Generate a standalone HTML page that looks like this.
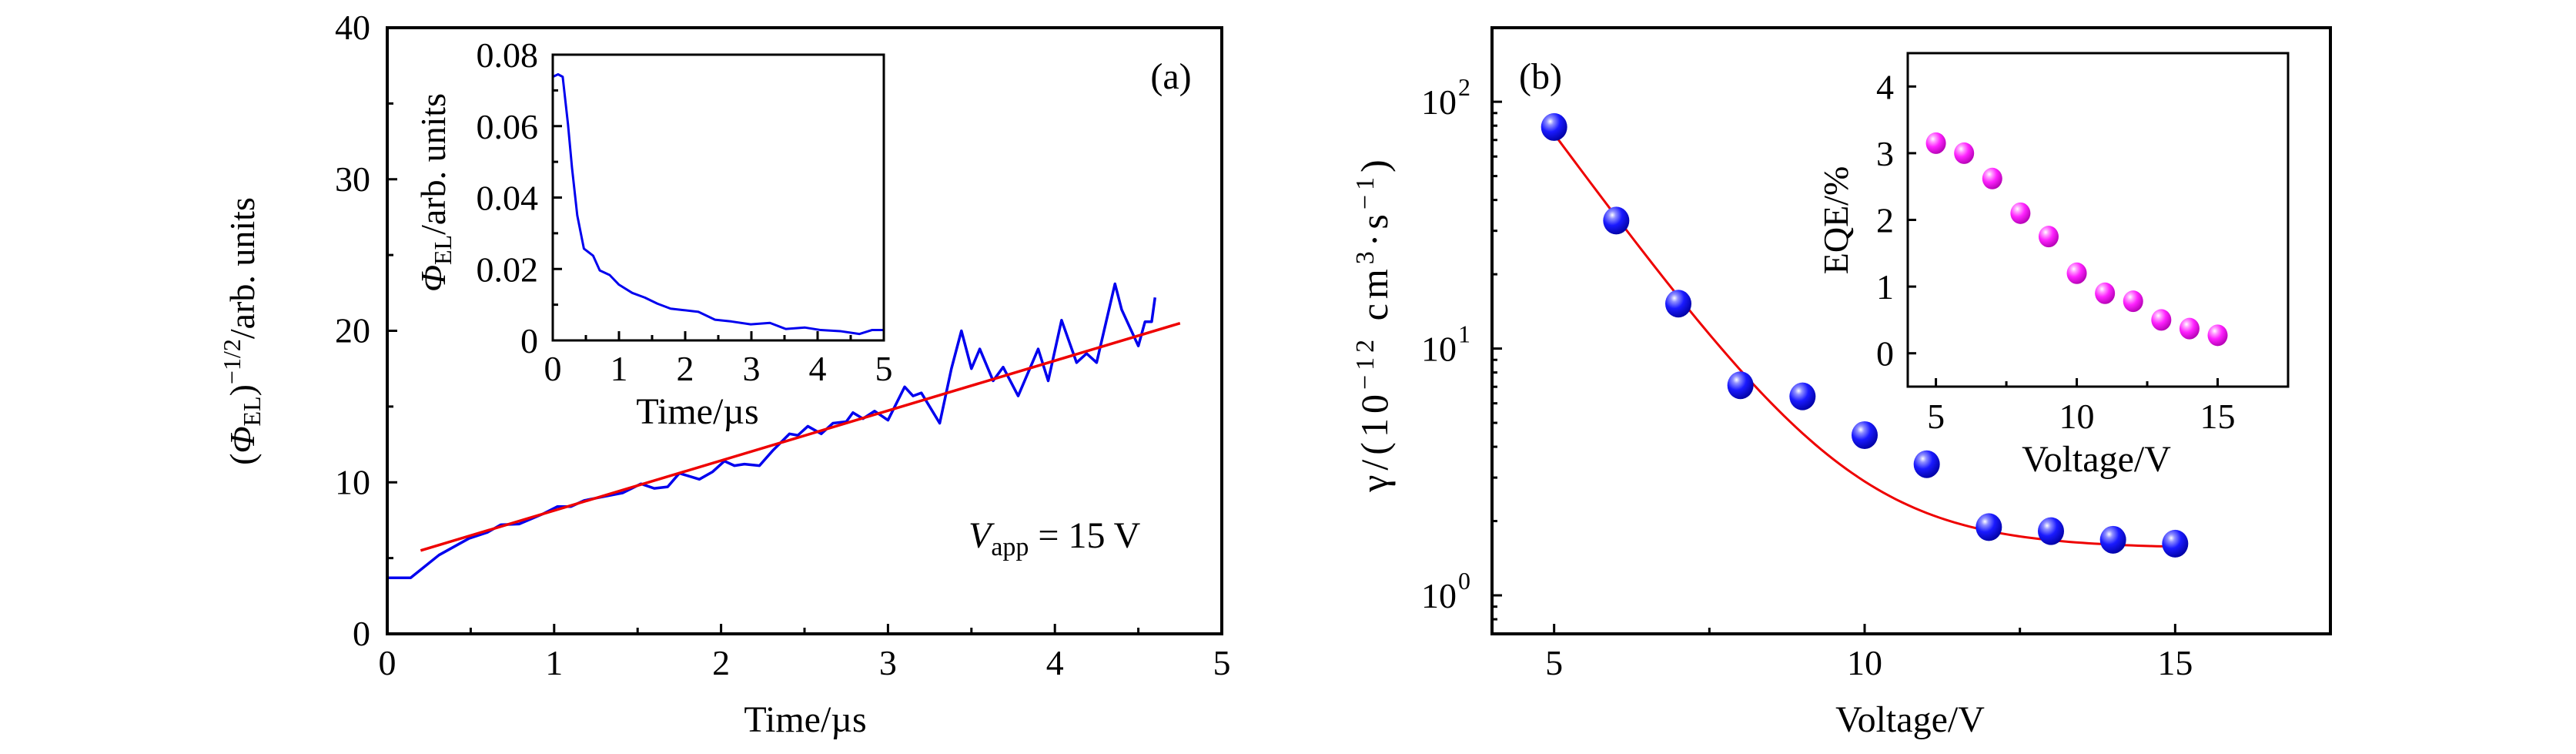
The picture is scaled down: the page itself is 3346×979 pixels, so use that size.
<!DOCTYPE html>
<html><head><meta charset="utf-8"><style>
html,body{margin:0;padding:0;background:#fff;}
svg text{font-family:"Liberation Serif",serif;fill:#000;}
</style></head><body>
<svg id="fig" width="3346" height="974" viewBox="0 0 3346 974" xmlns="http://www.w3.org/2000/svg">
<defs>
<radialGradient id="gBlue" cx="0.35" cy="0.3" r="0.75"><stop offset="0" stop-color="#ffffff"/><stop offset="0.18" stop-color="#8f8fff"/><stop offset="0.5" stop-color="#1a1aff"/><stop offset="1" stop-color="#0000a0"/></radialGradient>
<radialGradient id="gPink" cx="0.35" cy="0.3" r="0.75"><stop offset="0" stop-color="#ffffff"/><stop offset="0.2" stop-color="#ff9cff"/><stop offset="0.5" stop-color="#ff22ff"/><stop offset="1" stop-color="#b000b0"/></radialGradient>
</defs>
<g id="layer"></g>
</svg>
<script>
// ---- Panel (a) main data ----
const aTime = [0,0.14,0.31,0.49,0.6,0.68,0.79,0.93,1.02,1.1,1.18,1.27,1.41,1.52,1.6,1.68,1.75,1.87,1.95,2.02,2.08,2.14,2.23,2.31,2.41,2.46,2.52,2.6,2.67,2.75,2.79,2.85,2.92,3.0,3.1,3.15,3.2,3.31,3.38,3.44,3.5,3.55,3.63,3.69,3.78,3.9,3.96,4.04,4.13,4.19,4.25,4.36,4.4,4.5,4.54,4.58,4.6];
const aSignal = [3.7,3.7,5.2,6.3,6.7,7.2,7.25,7.9,8.4,8.4,8.8,9.0,9.3,9.9,9.6,9.7,10.6,10.2,10.7,11.4,11.1,11.2,11.1,12.1,13.2,13.1,13.7,13.2,13.9,14.0,14.6,14.2,14.7,14.1,16.3,15.7,15.9,13.9,17.5,20.0,17.5,18.8,16.7,17.6,15.7,18.8,16.7,20.7,17.9,18.5,17.9,23.1,21.4,19.0,20.6,20.6,22.2];
const aFitX = [0.2,4.75];
const aFitY = [5.5,20.5];
const aXTicks = [0,1,2,3,4,5];
const aYTicks = [0,10,20,30,40];
// ---- Panel (a) inset ----
const insTime = [0,0.08,0.15,0.23,0.29,0.37,0.47,0.61,0.71,0.86,1.0,1.2,1.39,1.58,1.78,1.97,2.2,2.45,2.7,2.99,3.28,3.52,3.81,4.05,4.34,4.63,4.82,5.0];
const insPhi = [0.0738,0.0745,0.0738,0.0605,0.0484,0.035,0.0257,0.0237,0.0196,0.0183,0.0156,0.0133,0.012,0.0103,0.0089,0.0085,0.008,0.0058,0.0053,0.0045,0.0049,0.0032,0.0036,0.0029,0.0026,0.0018,0.0029,0.0029];
const insXTicks = [0,1,2,3,4,5];
const insYTicks = [0,0.02,0.04,0.06,0.08];
const insYLabels = ["0","0.02","0.04","0.06","0.08"];
// ---- Panel (b) ----
const bVoltage = [5,6,7,8,9,10,11,12,13,14,15];
const bGamma = [79,33,15.2,7.1,6.4,4.46,3.4,1.89,1.82,1.68,1.62];
const bFitParams = [72.5,1.254,1.55]; // A, tau, y0 of A*exp(-(V-5)/tau)+y0
const bFitRange = [5,15];
const bXTicks = [5,10,15];
const bYTicks = [0,1,2];
const eqeVoltage = [5,6,7,8,9,10,11,12,13,14,15];
const eqeValue = [3.15,3.0,2.62,2.1,1.75,1.2,0.9,0.78,0.5,0.37,0.27];
const eqeXTicks = [5,10,15];
const eqeYTicks = [0,1,2,3,4];

const NS="http://www.w3.org/2000/svg";
const layer=document.getElementById('layer');
function mk(tag,attrs,parent,text){const e=document.createElementNS(NS,tag);for(const k in attrs)e.setAttribute(k,attrs[k]);if(text!==undefined)e.textContent=text;(parent||layer).appendChild(e);return e;}
function lin(d0,d1,p0,p1){return v=>p0+(v-d0)/(d1-d0)*(p1-p0);}
function logs(d0,d1,p0,p1){return v=>p0+(Math.log10(v)-d0)/(d1-d0)*(p1-p0);}

// ===== Panel a =====
const ax=lin(0,5,503,1587), ay=lin(0,40,823,36);
const gA=mk('g',{});


for(let v=0;v<=5;v+=0.5){const x=ax(v);const t=mk('line',{x1:x,x2:x,y1:823,y2:823-(v%1===0?13:8),stroke:'#000','stroke-width':3},gA);}
for(let v=0;v<=40;v+=5){const y=ay(v);const t=mk('line',{x1:503,x2:503+(v%10===0?13:8),y1:y,y2:y,stroke:'#000','stroke-width':3},gA);}
aXTicks.forEach(v=>{const t=mk('text',{x:ax(v),y:876,'font-size':46,'text-anchor':'middle'},gA,String(v));});
aYTicks.forEach(v=>{const t=mk('text',{x:481,y:ay(v)+15,'font-size':46,'text-anchor':'end'},gA,String(v));});
let p=mk('polyline',{points:aTime.map((t,i)=>ax(t)+','+ay(aSignal[i])).join(' '),fill:'none',stroke:'#0000ee','stroke-width':3.5,'stroke-linejoin':'round'},gA);

p=mk('line',{x1:ax(aFitX[0]),y1:ay(aFitY[0]),x2:ax(aFitX[1]),y2:ay(aFitY[1]),stroke:'#ee0000','stroke-width':3.5},gA);

p=mk('rect',{x:503,y:36,width:1084,height:787,fill:'none',stroke:'#000','stroke-width':4},gA);

p=mk('text',{x:1046,y:950,'font-size':48,'text-anchor':'middle'},gA,'Time/µs');

p=mk('text',{transform:'translate(330,430) rotate(-90)','font-size':46,'text-anchor':'middle'},gA);
p.innerHTML='(<tspan font-style="italic">Φ</tspan><tspan font-size="32" dy="8">EL</tspan><tspan dy="-8">)</tspan><tspan font-size="32" dy="-18">−1/2</tspan><tspan dy="18">/arb. units</tspan>';

p=mk('text',{x:1521,y:115,'font-size':48,'text-anchor':'middle'},gA,'(a)');

p=mk('text',{x:1258,y:711,'font-size':48},gA);
p.innerHTML='<tspan font-style="italic">V</tspan><tspan font-size="34" dy="10">app</tspan><tspan dy="-10"> = 15 V</tspan>';


// inset a
const ix=lin(0,5,718,1148), iy=lin(0,0.08,442,71);
const gI=mk('g',{});


for(let v=0;v<=5;v+=0.5){const x=ix(v);const t=mk('line',{x1:x,x2:x,y1:442,y2:442-(v%1===0?12:7),stroke:'#000','stroke-width':3},gI);}
for(let k=0;k<=8;k++){const y=iy(k*0.01);const t=mk('line',{x1:718,x2:718+(k%2===0?12:7),y1:y,y2:y,stroke:'#000','stroke-width':3},gI);}
insXTicks.forEach(v=>{const t=mk('text',{x:ix(v),y:494,'font-size':46,'text-anchor':'middle'},gI,String(v));});
insYTicks.forEach((v,i)=>{const t=mk('text',{x:699,y:iy(v)+16,'font-size':46,'text-anchor':'end'},gI,insYLabels[i]);});
p=mk('polyline',{points:insTime.map((t,i)=>ix(t)+','+iy(insPhi[i])).join(' '),fill:'none',stroke:'#0000ee','stroke-width':3,'stroke-linejoin':'round'},gI);

p=mk('rect',{x:718,y:71,width:430,height:371,fill:'none',stroke:'#000','stroke-width':3},gI);

p=mk('text',{x:906,y:550,'font-size':48,'text-anchor':'middle'},gI,'Time/µs');

p=mk('text',{transform:'translate(578,250) rotate(-90)','font-size':46,'text-anchor':'middle'},gI);
p.innerHTML='<tspan font-style="italic">Φ</tspan><tspan font-size="32" dy="8">EL</tspan><tspan dy="-8">/arb. units</tspan>';


// ===== Panel b =====
const bx=lin(4,17.5,1938,3027), by=logs(-0.156,2.30,823,36);
const gB=mk('g',{});


[5,7.5,10,12.5,15].forEach(v=>{const x=bx(v);const t=mk('line',{x1:x,x2:x,y1:823,y2:823-(v%5===0?13:8),stroke:'#000','stroke-width':3},gB);});
for(let d=-1;d<=2;d++){for(let m=1;m<=9;m++){const v=m*Math.pow(10,d);const lv=Math.log10(v);if(lv<-0.156||lv>2.30)continue;const y=by(v);const t=mk('line',{x1:1938,x2:1938+(m===1?13:7),y1:y,y2:y,stroke:'#000','stroke-width':3},gB);}}
bXTicks.forEach(v=>{const t=mk('text',{x:bx(v),y:876,'font-size':46,'text-anchor':'middle'},gB,String(v));});
bYTicks.forEach(e=>{const t=mk('text',{x:1892,y:by(Math.pow(10,e))+16,'font-size':46,'text-anchor':'end'},gB,'10');
 const s=mk('text',{x:1894,y:by(Math.pow(10,e))-8,'font-size':32},gB,String(e));});
const fitPts=[];for(let k=0;k<=100;k++){const v=bFitRange[0]+(bFitRange[1]-bFitRange[0])*k/100;const g=bFitParams[0]*Math.exp(-(v-5)/bFitParams[1])+bFitParams[2];fitPts.push(bx(v)+','+by(g));}
p=mk('polyline',{points:fitPts.join(' '),fill:'none',stroke:'#ee0000','stroke-width':3},gB);

bVoltage.forEach((v,i)=>{const c=mk('ellipse',{cx:bx(v),cy:by(bGamma[i]),rx:17,ry:18,fill:'url(#gBlue)'},gB);});
p=mk('rect',{x:1938,y:36,width:1089,height:787,fill:'none',stroke:'#000','stroke-width':4},gB);

p=mk('text',{x:2481,y:950,'font-size':48,'text-anchor':'middle'},gB,'Voltage/V');

p=mk('text',{transform:'translate(1802,420) rotate(-90)','font-size':50,'text-anchor':'middle','letter-spacing':6},gB);
p.innerHTML='γ/(10<tspan font-size="34" dy="-18">−12</tspan><tspan dy="18"> cm</tspan><tspan font-size="34" dy="-18">3</tspan><tspan dy="18">·s</tspan><tspan font-size="34" dy="-18">−1</tspan><tspan dy="18">)</tspan>';

p=mk('text',{x:2001,y:115,'font-size':48,'text-anchor':'middle'},gB,'(b)');


// inset b
const ex=lin(4,17.5,2478,2972), ey=lin(-0.5,4.5,502,69);
const gE=mk('g',{});


[5,7.5,10,12.5,15].forEach(v=>{const x=ex(v);const t=mk('line',{x1:x,x2:x,y1:502,y2:502-(v%5===0?11:7),stroke:'#000','stroke-width':3},gE);});
eqeYTicks.forEach(v=>{const y=ey(v);const t=mk('line',{x1:2478,x2:2489,y1:y,y2:y,stroke:'#000','stroke-width':3},gE);
 const l=mk('text',{x:2460,y:y+16,'font-size':46,'text-anchor':'end'},gE,String(v));});
eqeXTicks.forEach(v=>{const t=mk('text',{x:ex(v),y:556,'font-size':46,'text-anchor':'middle'},gE,String(v));});
eqeVoltage.forEach((v,i)=>{const c=mk('ellipse',{cx:ex(v),cy:ey(eqeValue[i]),rx:13,ry:14,fill:'url(#gPink)'},gE);});
p=mk('rect',{x:2478,y:69,width:494,height:433,fill:'none',stroke:'#000','stroke-width':3},gE);

p=mk('text',{x:2723,y:612,'font-size':48,'text-anchor':'middle'},gE,'Voltage/V');

p=mk('text',{transform:'translate(2400,286) rotate(-90)','font-size':46,'text-anchor':'middle'},gE,'EQE/%');

</script>
</body></html>
